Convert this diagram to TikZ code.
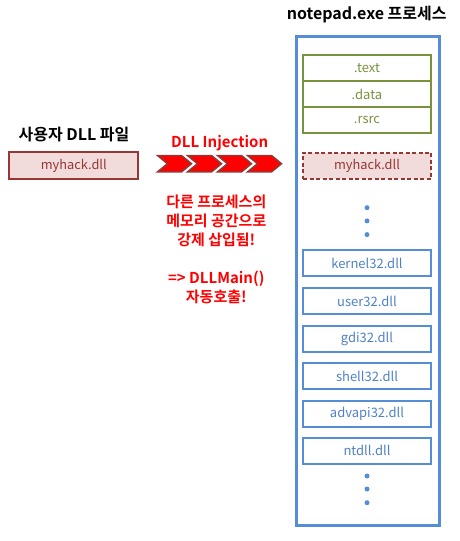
\documentclass[tikz,border=0pt]{standalone}
\usepackage{fontspec}
\setmainfont{Noto Sans CJK KR}[BoldFont={Noto Sans CJK KR Bold}]
\definecolor{pblue}{HTML}{558ED5}
\definecolor{tblue}{HTML}{4F81C8}
\definecolor{pgreen}{HTML}{77933C}
\definecolor{dred}{HTML}{953735}
\definecolor{pinkfill}{HTML}{F2DCDB}
\tikzset{
  sect/.style={draw=pgreen, line width=1.8pt, minimum width=128pt, minimum height=25.7pt, inner sep=0pt, text=pgreen, font=\fontsize{13}{15}\selectfont},
  dllbox/.style={draw=pblue, line width=1.8pt, minimum width=128pt, minimum height=26pt, inner sep=0pt, text=tblue, font=\fontsize{13}{15}\selectfont},
  pinkbox/.style={draw=dred, fill=pinkfill, line width=1.8pt, inner sep=0pt, text=dred, font=\fontsize{12.8}{15}\selectfont},
  bigtitle/.style={font=\bfseries\fontsize{16}{18}\selectfont, inner sep=0pt},
  redtext/.style={text=red, font=\bfseries\fontsize{15}{19}\selectfont, align=center, inner sep=0pt},
  chev/.style={fill=red, draw=dred, line width=1.5pt, line join=miter},
  bdot/.style={circle, fill=pblue, minimum size=5pt, inner sep=0pt}
}
\begin{document}
\begin{tikzpicture}[x=1pt,y=-1pt]
\useasboundingbox (0,0) rectangle (459,541);
% process
\node[bigtitle] (ptitle) at (366.7,15) {notepad.exe 프로세스};
\node[draw=pblue, line width=3pt, minimum width=143pt, minimum height=489pt, inner sep=0pt, anchor=north west] (proc) at (295,35) {};
\node[sect] (text) at (367,68.2) {.text};
\node[sect] (data) at (367,94) {.data};
\node[sect] (rsrc) at (367,119.8) {.rsrc};
\node[pinkbox, dashed, dash pattern=on 4pt off 2.5pt, minimum width=128pt, minimum height=26.3pt] (inj) at (367,165.8) {myhack.dll};
\node[bdot] (d1) at (367,207.7) {};
\node[bdot] (d2) at (367,220.9) {};
\node[bdot] (d3) at (367,234.6) {};
\node[dllbox] (k32) at (367,263.3) {kernel32.dll};
\node[dllbox] (u32) at (367,301.3) {user32.dll};
\node[dllbox] (g32) at (367,338.8) {gdi32.dll};
\node[dllbox] (s32) at (367,376.3) {shell32.dll};
\node[dllbox] (a32) at (367,413.8) {advapi32.dll};
\node[dllbox] (nt) at (367,450.8) {ntdll.dll};
\node[bdot] (e1) at (367,476) {};
\node[bdot] (e2) at (367,489) {};
\node[bdot] (e3) at (367,502.7) {};
% left
\node[bigtitle] (utitle) at (74,135) {사용자 DLL 파일};
\node[pinkbox, minimum width=129pt, minimum height=27pt] (src) at (73.8,165.8) {myhack.dll};
% injection
\node[redtext] (injt) at (219.7,142.7) {DLL Injection};
\foreach \i in {0,1,2,3} {
  \pgfmathsetmacro{\xo}{157.5+30*\i}
  \draw[chev] (\xo,155.5) -- ++(24,0) -- ++(10,8.2) -- ++(-10,8.2) -- ++(-24,0) -- ++(10,-8.2) -- cycle;
}
\node[redtext] (desc) at (216.3,249.2) {다른 프로세스의\\메모리 공간으로\\강제 삽입됨!\\[19pt]=> DLLMain()\\자동호출!};
\end{tikzpicture}
\end{document}
